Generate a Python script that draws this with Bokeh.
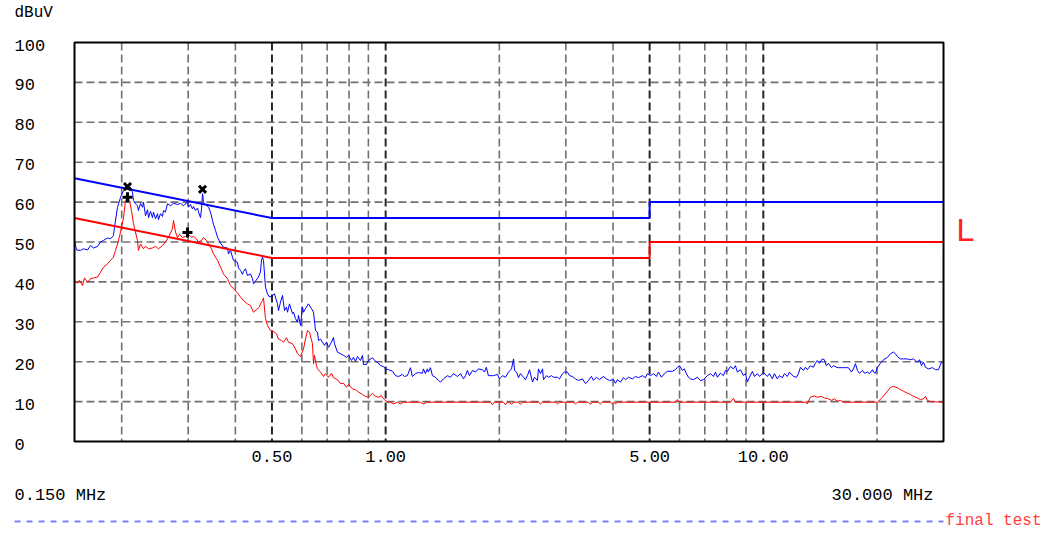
import math
from bokeh.plotting import figure
from bokeh.models import Range1d, Label
from bokeh.core.properties import value
from bokeh.embed import file_html
from bokeh.resources import INLINE

# ---------------- data (MHz, dBuV) ----------------
peak_freq = [0.150, 0.1518, 0.1556, 0.1585, 0.1624, 0.1654, 0.1685, 0.1726, 0.1758, 0.1790,
             0.1834, 0.1868, 0.1902, 0.1914, 0.1950, 0.1986, 0.2023, 0.2072, 0.2110, 0.2136,
             0.2149, 0.2175, 0.2202, 0.2215, 0.2243, 0.2271, 0.2284, 0.2313, 0.2341, 0.2356,
             0.2384, 0.2413, 0.2428, 0.2458, 0.2488, 0.2503, 0.2534, 0.2565, 0.2581, 0.2612,
             0.2644, 0.2693, 0.2743, 0.2811, 0.2862, 0.2915, 0.2987, 0.3005, 0.3042, 0.3079,
             0.3098, 0.3137, 0.3175, 0.3195, 0.3234, 0.3254, 0.3274, 0.3294, 0.3334, 0.3375,
             0.3396, 0.3437, 0.3479, 0.3500, 0.3544, 0.3587, 0.3654, 0.3721, 0.3812, 0.3836,
             0.3882, 0.3930, 0.3954, 0.4052, 0.4077, 0.4127, 0.4178, 0.4203, 0.4254, 0.4306,
             0.4386, 0.4440, 0.4467, 0.4521, 0.4604, 0.4662, 0.4691, 0.4719, 0.4748, 0.4806,
             0.4865, 0.4925, 0.5015, 0.5076, 0.5171, 0.5202, 0.5267, 0.5332, 0.5397, 0.5463,
             0.5497, 0.5564, 0.5667, 0.5701, 0.5771, 0.5842, 0.5878, 0.5950, 0.6023, 0.6060,
             0.6134, 0.6247, 0.6362, 0.6440, 0.6520, 0.6600, 0.6640, 0.6721, 0.6803, 0.6887,
             0.6972, 0.7058, 0.7188, 0.7276, 0.7320, 0.7454, 0.7593, 0.7733, 0.7876, 0.7973,
             0.8118, 0.8218, 0.8319, 0.8421, 0.8577, 0.8682, 0.8735, 0.8895, 0.9004, 0.9228,
             0.9397, 0.9512, 0.9689, 0.9868, 0.9988, 1.017, 1.043, 1.062, 1.082, 1.107,
             1.121, 1.141, 1.163, 1.177, 1.199, 1.221, 1.251, 1.259, 1.274, 1.290,
             1.297, 1.314, 1.330, 1.355, 1.379, 1.397, 1.423, 1.458, 1.485, 1.512,
             1.549, 1.578, 1.607, 1.627, 1.646, 1.667, 1.698, 1.729, 1.760, 1.804,
             1.826, 1.848, 1.871, 1.930, 1.977, 2.002, 2.039, 2.076, 2.115, 2.154,
             2.181, 2.194, 2.221, 2.248, 2.275, 2.317, 2.345, 2.374, 2.404, 2.448,
             2.478, 2.523, 2.539, 2.571, 2.603, 2.618, 2.667, 2.700, 2.749, 2.782,
             2.850, 2.886, 2.940, 2.976, 3.030, 3.068, 3.124, 3.182, 3.240, 3.320,
             3.382, 3.444, 3.507, 3.550, 3.616, 3.683, 3.773, 3.843, 3.914, 4.011,
             4.060, 4.109, 4.186, 4.263, 4.316, 4.395, 4.504, 4.587, 4.671, 4.786,
             4.874, 4.933, 5.025, 5.118, 5.212, 5.276, 5.374, 5.473, 5.573, 5.747,
             5.853, 5.923, 5.998, 6.107, 6.182, 6.258, 6.335, 6.413, 6.531, 6.691,
             6.816, 6.942, 7.112, 7.245, 7.379, 7.469, 7.559, 7.700, 7.842, 7.938,
             8.034, 8.184, 8.335, 8.437, 8.539, 8.699, 8.860, 8.968, 9.076, 9.191,
             9.358, 9.473, 9.646, 9.767, 9.947, 10.07, 10.25, 10.38, 10.57, 10.70,
             10.89, 11.03, 11.24, 11.37, 11.58, 11.73, 12.02, 12.24, 12.39, 12.54,
             12.77, 12.93, 13.08, 13.32, 13.57, 13.73, 13.90, 14.07, 14.33, 14.51,
             14.69, 14.87, 15.15, 15.34, 15.62, 15.81, 16.20, 16.50, 16.80, 17.11,
             17.32, 17.54, 17.75, 17.97, 18.30, 18.53, 18.86, 19.10, 19.46, 19.58,
             19.82, 20.05, 20.43, 20.81, 21.32, 21.71, 22.11, 22.38, 22.65, 23.07,
             23.50, 24.07, 24.53, 24.98, 25.29, 25.59, 25.92, 26.23, 26.55, 26.88,
             27.37, 28.05, 28.57, 29.10, 29.63, 30.00]
peak_level = [50.4, 48.0, 47.9, 48.3, 48.0, 49.1, 48.5, 48.9, 50.0, 50.4,
              51.0, 50.8, 51.6, 53.7, 58.7, 61.2, 62.9, 63.7, 63.7, 62.5,
              60.4, 59.6, 59.1, 57.9, 59.7, 58.7, 60.0, 56.6, 58.1, 56.1,
              57.7, 56.1, 57.5, 55.8, 57.1, 55.6, 57.1, 56.4, 57.9, 57.5,
              59.6, 59.1, 59.7, 59.4, 59.7, 59.1, 60.0, 58.7, 59.4, 58.3,
              58.9, 57.9, 58.5, 57.5, 56.1, 58.3, 62.1, 60.0, 59.4, 58.9,
              58.7, 57.5, 55.4, 54.4, 52.9, 51.2, 49.7, 48.7, 48.5, 47.0,
              48.0, 46.2, 45.4, 44.9, 43.5, 42.9, 41.9, 42.6, 43.3, 41.6,
              42.0, 40.8, 39.5, 40.2, 41.2, 42.5, 45.5, 46.2, 45.4, 38.7,
              37.0, 36.2, 36.6, 37.0, 34.5, 32.8, 34.9, 36.6, 32.8, 33.7,
              32.4, 34.5, 32.0, 32.4, 30.8, 29.9, 31.6, 29.1, 33.7, 32.4,
              33.3, 34.5, 33.3, 32.4, 27.8, 27.4, 25.3, 25.7, 24.9, 24.1,
              24.9, 23.6, 24.9, 26.1, 24.5, 22.4, 22.0, 21.6, 21.1, 21.6,
              20.3, 21.1, 20.1, 21.3, 20.3, 21.6, 19.3, 19.3, 20.3, 21.0,
              20.1, 19.9, 19.0, 18.8, 18.2, 18.0, 17.6, 16.5, 16.3, 16.8,
              16.3, 16.5, 18.5, 16.3, 17.0, 17.3, 17.1, 18.2, 17.0, 18.2,
              17.4, 18.5, 16.5, 16.1, 15.3, 14.9, 15.7, 16.5, 16.1, 17.0,
              16.3, 17.0, 15.7, 16.5, 17.8, 16.5, 17.8, 17.4, 18.2, 18.0,
              17.4, 18.6, 16.5, 16.5, 16.8, 15.7, 16.5, 16.1, 17.4, 18.2,
              20.7, 17.8, 17.4, 16.0, 17.0, 16.1, 15.5, 16.5, 18.0, 14.9,
              16.1, 15.3, 18.2, 17.0, 18.2, 15.5, 16.5, 16.1, 16.5, 16.1,
              16.1, 15.7, 17.0, 17.4, 17.4, 16.5, 16.3, 15.7, 15.3, 15.7,
              14.5, 15.3, 16.3, 15.3, 16.1, 15.5, 16.3, 15.7, 15.3, 15.5,
              14.6, 15.5, 14.9, 16.0, 15.5, 16.1, 15.7, 16.3, 16.0, 16.5,
              16.0, 17.0, 16.5, 17.0, 16.3, 17.4, 16.1, 17.0, 17.6, 17.6,
              18.0, 18.6, 19.0, 17.8, 18.2, 17.0, 16.1, 15.7, 15.5, 16.1,
              15.3, 15.5, 16.5, 17.0, 16.3, 17.4, 16.1, 17.1, 16.5, 17.8,
              17.6, 18.8, 18.2, 19.0, 17.4, 18.0, 16.5, 17.0, 14.9, 16.1,
              17.6, 16.3, 17.0, 16.3, 17.1, 17.0, 16.3, 17.0, 15.7, 17.0,
              15.7, 16.5, 16.0, 17.0, 16.3, 17.4, 16.3, 16.1, 17.0, 18.6,
              17.8, 18.6, 18.0, 19.0, 18.6, 19.6, 20.3, 19.6, 20.7, 20.5,
              19.0, 19.6, 18.5, 19.0, 18.6, 18.5, 18.5, 18.5, 18.5, 17.4,
              18.2, 19.5, 17.8, 17.1, 17.8, 17.1, 17.4, 17.0, 18.0, 17.4,
              17.1, 18.6, 19.6, 20.5, 21.1, 22.0, 22.4, 22.0, 21.3, 20.7,
              20.7, 20.7, 20.5, 20.7, 20.3, 19.9, 20.5, 19.0, 19.9, 18.6,
              18.2, 18.5, 18.0, 18.0, 19.9, 19.9]

avg_freq = [0.150, 0.1528, 0.1546, 0.1575, 0.1594, 0.1624, 0.1654, 0.1685, 0.1726, 0.1758,
            0.1790, 0.1834, 0.1868, 0.1902, 0.1926, 0.1950, 0.1986, 0.2023, 0.2047, 0.2072,
            0.2098, 0.2123, 0.2149, 0.2175, 0.2202, 0.2215, 0.2243, 0.2284, 0.2313, 0.2356,
            0.2413, 0.2458, 0.2503, 0.2565, 0.2612, 0.2660, 0.2726, 0.2743, 0.2777, 0.2811,
            0.2846, 0.2897, 0.2951, 0.3005, 0.3061, 0.3098, 0.3156, 0.3195, 0.3254, 0.3294,
            0.3354, 0.3396, 0.3458, 0.3500, 0.3587, 0.3654, 0.3721, 0.3812, 0.3882, 0.3954,
            0.4052, 0.4127, 0.4203, 0.4306, 0.4386, 0.4467, 0.4633, 0.4662, 0.4719, 0.4748,
            0.4806, 0.4865, 0.4954, 0.5045, 0.5139, 0.5202, 0.5299, 0.5364, 0.5463, 0.5530,
            0.5667, 0.5771, 0.5842, 0.5950, 0.6060, 0.6134, 0.6209, 0.6285, 0.6401, 0.6440,
            0.6479, 0.6560, 0.6600, 0.6721, 0.6845, 0.6930, 0.7058, 0.7188, 0.7276, 0.7454,
            0.7593, 0.7733, 0.7876, 0.7973, 0.8168, 0.8319, 0.8473, 0.8682, 0.8841, 0.9004,
            0.9228, 0.9397, 0.9570, 0.9748, 0.9868, 1.011, 1.030, 1.049, 1.075, 1.094,
            1.114, 1.236, 1.259, 1.282, 1.895, 1.918, 1.942, 2.051, 2.076, 2.101,
            2.128, 2.154, 2.181, 2.248, 2.275, 2.303, 2.539, 2.571, 2.603, 2.817,
            2.850, 2.886, 3.143, 3.182, 3.220, 3.444, 3.486, 3.529, 3.660, 3.705,
            3.750, 3.938, 3.986, 4.035, 4.060, 4.109, 5.853, 5.923, 5.998, 8.184,
            8.335, 8.437, 13.01, 13.08, 13.32, 13.65, 13.90, 14.25, 14.51, 14.78,
            15.15, 15.43, 15.71, 16.00, 16.30, 20.05, 20.68, 21.32, 21.71, 22.11,
            22.65, 23.07, 23.50, 24.07, 24.53, 24.98, 25.59, 26.07, 26.55, 26.88,
            27.20, 27.71, 30.00]
avg_level = [40.2, 39.7, 40.4, 39.1, 41.0, 39.9, 40.8, 41.0, 41.2, 42.4,
             43.7, 44.5, 45.4, 46.2, 47.9, 49.5, 52.5, 56.2, 60.4, 61.2,
             60.4, 57.9, 54.6, 52.5, 50.4, 47.9, 49.5, 48.3, 48.9, 48.3,
             48.5, 48.9, 48.3, 49.1, 50.0, 51.2, 53.3, 55.4, 52.5, 51.1,
             51.9, 51.1, 51.4, 51.9, 51.2, 51.4, 50.8, 50.0, 50.4, 51.1,
             50.4, 49.5, 48.3, 47.0, 45.4, 43.7, 42.0, 40.8, 39.1, 38.3,
             37.2, 36.2, 35.3, 34.5, 34.1, 32.4, 33.7, 34.5, 35.3, 36.0,
             30.8, 29.1, 27.8, 27.6, 27.0, 25.7, 25.3, 24.9, 26.0, 24.9,
             24.5, 23.2, 22.0, 21.3, 23.2, 25.7, 27.8, 27.4, 24.5, 19.5,
             21.6, 19.0, 18.2, 17.4, 16.3, 17.0, 16.1, 17.1, 16.0, 15.5,
             14.5, 14.6, 13.6, 14.3, 13.2, 13.0, 12.4, 11.8, 11.3, 11.1,
             12.1, 11.3, 11.1, 11.5, 10.7, 9.85, 9.85, 9.4, 9.85, 9.4,
             9.85, 9.85, 9.4, 9.85, 9.85, 9.2, 9.85, 9.85, 9.2, 9.85,
             9.85, 9.3, 9.85, 9.85, 9.3, 9.85, 9.85, 9.4, 9.85, 9.85,
             9.4, 9.85, 9.85, 9.4, 9.85, 9.85, 9.3, 9.85, 9.85, 9.4,
             9.85, 9.85, 9.4, 9.85, 9.4, 9.85, 9.85, 10.5, 9.85, 9.85,
             10.8, 9.85, 9.85, 9.4, 11.1, 11.4, 11.1, 11.3, 10.9, 10.8,
             10.3, 10.7, 10.1, 10.3, 9.85, 9.85, 11.1, 12.6, 13.6, 13.8,
             13.5, 13.0, 12.6, 12.1, 11.8, 11.3, 10.9, 10.5, 10.7, 11.3,
             10.3, 10.0, 9.85]

qp_limit_freq = [0.15, 0.5, 5.0, 5.0, 30.0]
qp_limit_level = [66, 56, 56, 60, 60]
av_limit_freq = [0.15, 0.5, 5.0, 5.0, 30.0]
av_limit_level = [56, 46, 46, 50, 50]

qp_mark_freq = [0.2072, 0.3274]
qp_mark_level = [63.9, 63.2]
av_mark_freq = [0.2072, 0.2987]
av_mark_level = [61.2, 52.4]

y_ticks = [0, 10, 20, 30, 40, 50, 60, 70, 80, 90, 100]
y_tick_labels = [str(v) for v in y_ticks]
x_label_ticks = [0.5, 1.0, 5.0, 10.0]
x_tick_labels = ["0.50", "1.00", "5.00", "10.00"]
x_minor_grid = [0.2, 0.3, 0.4, 0.6, 0.7, 0.8, 0.9, 2, 3, 4, 6, 7, 8, 9, 20]
y_grid = [10, 20, 30, 40, 50, 60, 70, 80, 90]
F_START, F_STOP = 0.15, 30.0
L_MIN, L_MAX = 0, 100
start_label = "0.150 MHz"
stop_label = "30.000 MHz"

MONO = "Liberation Mono"

# ---------------- layout (pixels) ----------------
W, H = 1050, 538
FL, FT, FW, FH = 74, 42, 869, 399          # plot box left/top/width/height
DPP = math.log10(F_STOP / F_START) / FW    # decades per pixel
YPP = (L_MAX - L_MIN) / FH                 # dB per pixel

x_lo = F_START * 10 ** (-FL * DPP)
x_hi = F_STOP * 10 ** ((W - FL - FW) * DPP)
y_lo = L_MIN - (H - FT - FH) * YPP
y_hi = L_MAX + FT * YPP


def fx(px):
    return x_lo * 10 ** (px * DPP)


def fy(py):
    return y_hi - py * YPP


p = figure(width=W, height=H, x_axis_type="log",
           x_axis_location=None, y_axis_location=None,
           x_range=Range1d(x_lo, x_hi), y_range=Range1d(y_lo, y_hi),
           output_backend="svg", toolbar_location=None,
           min_border=0, min_border_left=0, min_border_right=0,
           min_border_top=0, min_border_bottom=0)
p.background_fill_color = "white"
p.border_fill_color = "white"
p.outline_line_color = None
p.xgrid.visible = False
p.ygrid.visible = False

DASH = "8 4"
# grid
n_minor = len(x_minor_grid)
p.segment(x0=x_minor_grid, y0=[L_MAX] * n_minor, x1=x_minor_grid, y1=[L_MIN] * n_minor,
          line_color="#707070", line_width=1.6, line_dash=DASH)
n_maj = len(x_label_ticks)
p.segment(x0=x_label_ticks, y0=[L_MAX] * n_maj, x1=x_label_ticks, y1=[L_MIN] * n_maj,
          line_color="#262626", line_width=2, line_dash=DASH)
n_y = len(y_grid)
p.segment(x0=[F_START] * n_y, y0=y_grid, x1=[F_STOP] * n_y, y1=y_grid,
          line_color="#707070", line_width=1.6, line_dash=DASH)

# traces
p.line(peak_freq, peak_level, line_color="#0000ff", line_width=1)
p.line(avg_freq, avg_level, line_color="#ff0000", line_width=1)
# limits
p.line(qp_limit_freq, qp_limit_level, line_color="#0000ff", line_width=2)
p.line(av_limit_freq, av_limit_level, line_color="#ff0000", line_width=2)
# markers
p.scatter(qp_mark_freq, qp_mark_level, marker="x", size=10, line_width=3,
          line_color="black")
p.scatter(av_mark_freq, av_mark_level, marker="cross", size=10, line_width=3,
          line_color="black")

# plot box
p.quad(left=[F_START], right=[F_STOP], bottom=[L_MIN], top=[L_MAX],
       fill_color=None, line_color="black", line_width=2)

# x tick labels
p.text(x=x_label_ticks, y=[fy(FT + FH + 15)] * n_maj, text=x_tick_labels,
       text_align="center", text_baseline="middle", text_font=value(MONO),
       text_font_size="17px", text_color="black")
# y tick labels (left aligned, slightly below their grid line)
p.text(x=[fx(14)] * len(y_ticks), y=[v - 2.5 * YPP for v in y_ticks],
       text=y_tick_labels, text_align="left", text_baseline="middle",
       text_font=value(MONO), text_font_size="17px", text_color="black")

p.add_layout(Label(x=fx(14), y=fy(12), text="dBuV", text_font=MONO,
                   text_font_size="16px", text_baseline="middle", text_color="black"))
p.add_layout(Label(x=fx(14), y=fy(495), text=start_label, text_font=MONO,
                   text_font_size="17px", text_baseline="middle", text_color="black"))
p.add_layout(Label(x=fx(933), y=fy(495), text=stop_label, text_font=MONO,
                   text_font_size="17px", text_baseline="middle", text_align="right",
                   text_color="black"))
p.line([fx(14), fx(FL + FW)], [fy(521), fy(521)], line_color="#8080ff",
       line_width=2, line_dash="6 6")
p.add_layout(Label(x=fx(945), y=fy(520), text="final test", text_font=MONO,
                   text_font_size="16px", text_baseline="middle", text_color="#ff4040"))
p.add_layout(Label(x=fx(956), y=fy(229), text="L", text_font="Liberation Sans",
                   text_font_size="32px", text_baseline="middle", text_color="#ff2020"))

open("out.html", "w").write(file_html(p, INLINE))
